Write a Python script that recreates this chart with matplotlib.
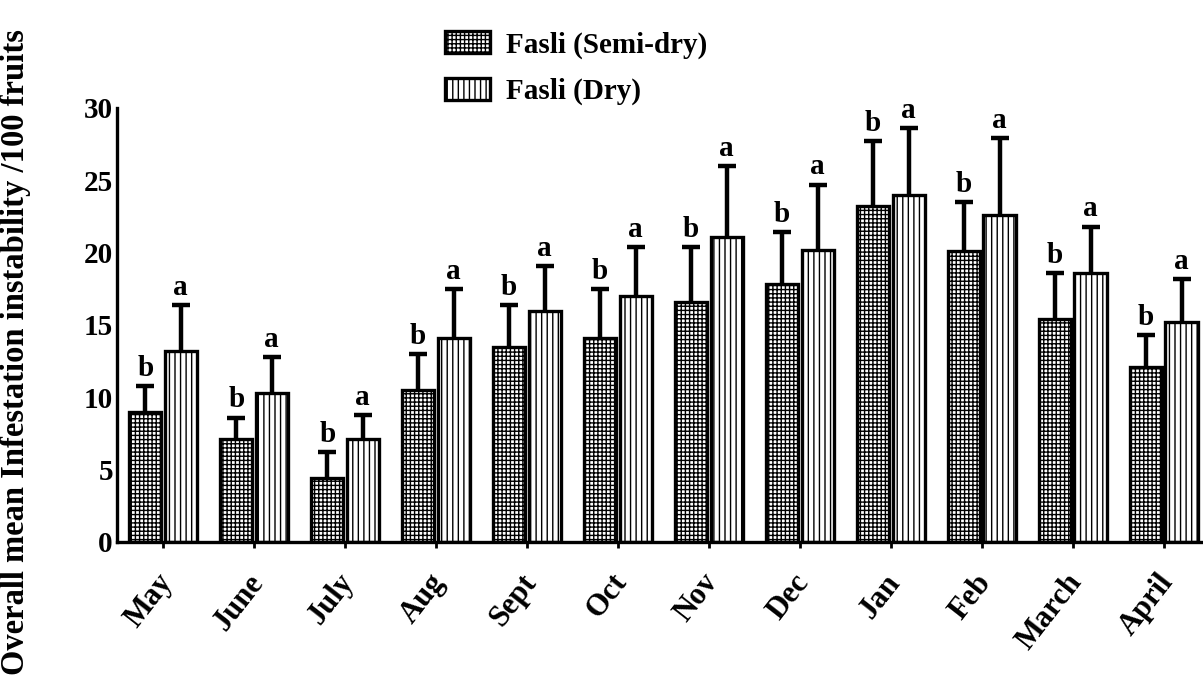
import numpy as np
import matplotlib
matplotlib.use("Agg")
import matplotlib.pyplot as plt
from matplotlib.transforms import ScaledTranslation

# Monthly infestation (mean and standard error) for the two Fasli sites
months = ["May", "June", "July", "Aug", "Sept", "Oct", "Nov", "Dec",
          "Jan", "Feb", "March", "April"]
semi_dry_mean = [9.0, 7.1, 4.4, 10.5, 13.5, 14.1, 16.6, 17.8, 23.2, 20.1, 15.4, 12.1]
semi_dry_err = [1.8, 1.5, 1.8, 2.5, 2.9, 3.4, 3.8, 3.6, 4.5, 3.4, 3.2, 2.2]
dry_mean = [13.2, 10.3, 7.1, 14.1, 16.0, 17.0, 21.1, 20.2, 24.0, 22.6, 18.6, 15.2]
dry_err = [3.2, 2.5, 1.7, 3.4, 3.1, 3.4, 4.9, 4.5, 4.6, 5.3, 3.2, 3.0]
semi_dry_letter = ["b"] * 12
dry_letter = ["a"] * 12
series_names = ["Fasli (Semi-dry)", "Fasli (Dry)"]
y_ticks = [0, 5, 10, 15, 20, 25, 30]
y_label = "Overall mean Infestation instability /100 fruits"

plt.rcParams["font.family"] = ["Liberation Serif", "DejaVu Serif"]
plt.rcParams["font.weight"] = "bold"
plt.rcParams["hatch.linewidth"] = 1.0
plt.rcParams["hatch.color"] = "black"

fig = plt.figure(figsize=(12.03, 6.98), dpi=100)
ax = fig.add_axes([0.0973, 0.2235, 0.9027, 0.6218])

x = np.arange(len(months))
width = 0.355
offset = 0.195

series = [
    (x - offset, semi_dry_mean, semi_dry_err, semi_dry_letter, "++++"),
    (x + offset, dry_mean, dry_err, dry_letter, "|||"),
]

for (pos, mean, err, letters, hatch), name in zip(series, series_names):
    ax.bar(pos, mean, width=width, facecolor="white", edgecolor="black",
           linewidth=2.4, hatch=hatch, label=name, zorder=2)
    _, caps, _ = ax.errorbar(pos, mean, yerr=[np.zeros(len(mean)), err],
                             fmt="none", ecolor="black", elinewidth=3.2,
                             capsize=6.5, capthick=3.2, zorder=3)
    # keep only the upper caps
    for cap in caps:
        if np.allclose(cap.get_ydata(), mean):
            cap.set_visible(False)
    for px, m, e, lab in zip(pos, mean, err, letters):
        ax.annotate(lab, (px, m + e), xytext=(0, 3), textcoords="offset points",
                    ha="center", va="bottom", fontsize=21, fontweight="bold")

ax.set_xlim(-0.505, 11.43)
ax.set_ylim(0, 30)
ax.set_yticks(y_ticks)
ax.set_yticklabels([str(t) for t in y_ticks], fontsize=21, fontweight="bold")
ax.tick_params(axis="y", length=0, pad=3)
ax.set_xticks(x)
ax.set_xticklabels(months, rotation=52, ha="right", va="center",
                   rotation_mode="anchor", fontsize=22, fontweight="bold")
ax.tick_params(axis="x", length=4.5, width=2, pad=21, direction="out")
shift = ScaledTranslation(3 / 72, 0, fig.dpi_scale_trans)
for lbl in ax.get_xticklabels():
    lbl.set_transform(lbl.get_transform() + shift)

for side in ("top", "right"):
    ax.spines[side].set_visible(False)
for side in ("left", "bottom"):
    ax.spines[side].set_linewidth(2.4)

fig.text(0.0125, 0.495, y_label, rotation=90, ha="center", va="center",
         fontsize=23.5, fontweight="bold")

leg = fig.legend(loc="upper left", bbox_to_anchor=(0.348, 0.993),
                 frameon=False, handlelength=1.55,
                 handleheight=0.8, handletextpad=0.55, labelspacing=0.65,
                 prop={"weight": "bold", "size": 21})

fig.savefig("out.png", dpi=100)
